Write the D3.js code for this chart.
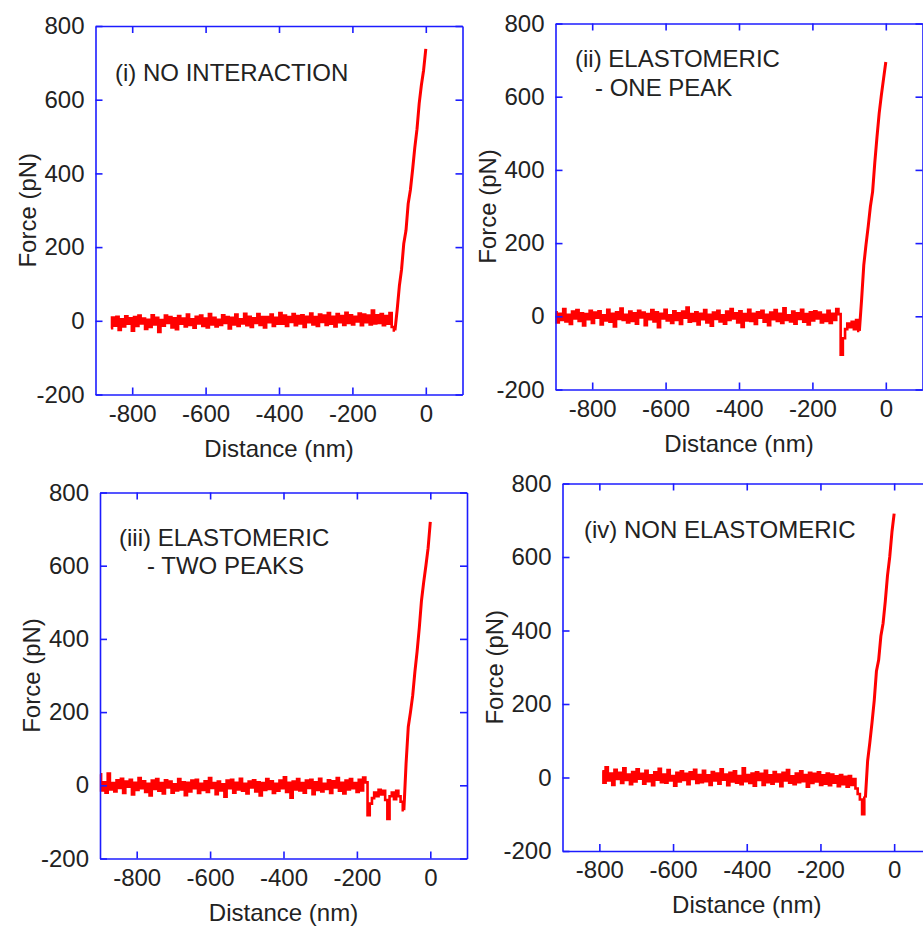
<!DOCTYPE html>
<html>
<head>
<meta charset="utf-8">
<script src="https://cdn.jsdelivr.net/npm/d3@7"></script>
<style>
  html, body { margin: 0; padding: 0; background: #fff; }
  svg { display: block; }
  text { font-family: "Liberation Sans", Arial, sans-serif; fill: #222; }
</style>
</head>
<body>
<svg id="chart" width="923" height="927"></svg>
<script>
// ---------- DATA ----------
const xTicks = [-800, -600, -400, -200, 0];
const yTicks = [-200, 0, 200, 400, 600, 800];
const xTitle = "Distance (nm)";
const yTitle = "Force (pN)";

// shared distance grid (nm), sampling every 6 nm
const distance = [-900,-894,-888,-882,-876,-870,-864,-858,-852,-846,-840,-834,-828,-822,-816,-810,-804,-798,-792,-786,-780,-774,-768,-762,-756,-750,-744,-738,-732,-726,-720,-714,-708,-702,-696,-690,-684,-678,-672,-666,-660,-654,-648,-642,-636,-630,-624,-618,-612,-606,-600,-594,-588,-582,-576,-570,-564,-558,-552,-546,-540,-534,-528,-522,-516,-510,-504,-498,-492,-486,-480,-474,-468,-462,-456,-450,-444,-438,-432,-426,-420,-414,-408,-402,-396,-390,-384,-378,-372,-366,-360,-354,-348,-342,-336,-330,-324,-318,-312,-306,-300,-294,-288,-282,-276,-270,-264,-258,-252,-246,-240,-234,-228,-222,-216,-210,-204,-198,-192,-186,-180,-174,-168,-162,-156,-150,-144,-138,-132,-126,-120,-114,-108,-102,-96,-90,-84,-78,-72,-66,-60,-54,-48,-42,-36,-30,-24,-18,-12,-6,0];

// force (pN) per panel; each series ends at distance 0
const forceNoInteraction = [
  -20,9,-13,11,-25,4,-15,12,-8,7,
  -27,10,-14,14,-7,6,-22,3,-17,15,
  -10,8,-30,2,-13,14,-6,10,-18,7,
  -23,13,-8,6,-15,17,-11,4,-19,11,
  -7,14,-14,6,-18,18,-10,8,-15,3,
  -11,15,-6,10,-21,8,-10,17,-14,4,
  -7,19,-12,11,-17,7,-6,18,-11,10,
  -18,10,-4,17,-14,8,-8,21,-8,14,
  -14,10,-3,18,-12,13,-7,15,-17,11,
  -4,20,-10,10,-14,17,-3,14,-11,21,
  -8,11,-15,18,-4,13,-11,22,-6,15,
  -10,11,-2,20,-12,17,-4,14,-10,28,
  -7,15,-6,18,-12,13,-8,21,-17,
  -26,30,
  95,140,210,245,318,355,410,470,520,590,640,680,738
];
const forceOnePeak = [
  11,-17,7,-10,20,-14,4,-21,13,-6,
  17,-13,8,-25,6,-8,15,-18,10,-4,
  14,-22,3,-11,18,-15,7,-28,11,-7,
  21,-10,4,-17,13,-13,8,-20,15,-3,
  10,-24,6,-8,17,-14,11,-30,7,-6,
  18,-11,3,-18,14,-10,8,-21,13,-4,
  24,-15,6,-13,11,-22,7,-8,17,-17,
  4,-26,10,-7,15,-14,3,-20,13,-10,
  20,-6,8,-17,14,-29,6,-11,18,-13,
  7,-21,11,-4,15,-15,4,-24,10,-8,
  17,-13,7,-18,22,-10,3,-14,13,-20,
  8,-7,18,-15,6,-22,11,-11,14,-6,
  10,-17,4,-13,15,-18,7,-10,20,6,
  -105,-60,-35,-20,-30,-15,-35,-10,-40,
  45,140,195,245,300,340,420,490,555,605,650,695
];
const forceTwoPeaks = [
  30,-14,8,-20,32,-11,6,-17,14,-7,
  18,-21,10,-4,15,-25,7,-13,20,-8,
  11,-18,4,-28,13,-10,17,-15,6,-22,
  14,-6,10,-20,3,-14,17,-11,8,-27,
  7,-17,13,-8,15,-21,4,-13,11,-18,
  20,-7,6,-24,10,-14,3,-31,13,-8,
  15,-20,7,-11,18,-15,4,-22,10,-6,
  14,-17,8,-28,6,-13,17,-10,11,-21,
  4,-15,13,-8,22,-18,7,-34,10,-11,
  17,-14,6,-20,13,-7,15,-24,8,-13,
  18,-17,4,-10,14,-21,11,-6,20,-15,
  7,-22,13,-11,17,-8,6,-18,15,-14,
  21,8,
  -82,-50,-35,-20,-30,-12,-25,-15,-40,-92,-30,-20,-38,-15,-30,-45,-68,
  60,160,200,245,310,365,430,505,555,600,648,720
];
const forceNonElastomeric = [
  17,-14,28,-8,11,-20,21,-4,13,-15,
  25,-7,8,-18,15,-11,22,-3,10,-17,
  18,-10,6,-21,14,-6,24,-13,8,-14,
  20,-8,4,-22,13,-11,17,-7,10,-18,
  14,-4,21,-15,7,-13,18,-10,6,-20,
  15,-8,11,-17,22,-6,8,-21,13,-11,
  17,-14,4,-18,25,-10,7,-15,11,-22,
  14,-7,10,-20,18,-13,6,-17,15,-11,
  8,-24,13,-8,20,-14,3,-18,11,-13,
  17,-10,7,-25,13,-15,10,-11,14,-20,
  6,-17,11,-21,8,-14,3,-24,7,-18,
  2,-25,4,-20,-4,
  -30,-45,-60,-100,-55,
  45,95,150,210,290,320,385,420,480,550,600,668,718
];
// distance (nm) where the contact (steep) region of each curve begins
const contactStart = [-84, -72, -72, -78];

const panelLabels = [
  ["(i) NO INTERACTION"],
  ["(ii) ELASTOMERIC", "- ONE PEAK"],
  ["(iii) ELASTOMERIC", "- TWO PEAKS"],
  ["(iv) NON ELASTOMERIC"]
];
const panelForces = [forceNoInteraction, forceOnePeak, forceTwoPeaks, forceNonElastomeric];

// ---------- LAYOUT (pixel frames of each plot) ----------
const frames = [
  {left: 95.5, right: 462.5, top: 26, bottom: 394.5, label: [{x: 115, y: 81}]},
  {left: 555.5, right: 922.5, top: 23.5, bottom: 389.5, label: [{x: 575, y: 67}, {x: 595, y: 96}]},
  {left: 100, right: 467, top: 492.5, bottom: 858.5, label: [{x: 119, y: 546}, {x: 147, y: 573.5}]},
  {left: 562.5, right: 931, top: 483.5, bottom: 851, label: [{x: 584, y: 537.5}]}
];

const BLUE = "#1c1cff";
const RED = "#ff0000";
const FONT = 24;
const svg = d3.select("#chart");
const fmt = d => String(d);   // plain hyphen-minus, as in the original

frames.forEach((f, k) => {
  const x = d3.scaleLinear().domain([-900, 100]).range([f.left, f.right]);
  const y = d3.scaleLinear().domain([-200, 800]).range([f.bottom, f.top]);
  const g = svg.append("g");

  const forces = panelForces[k];
  const dists = distance.slice(distance.length - forces.length);
  const pts = forces.map((v, i) => [dists[i], v]);
  const noncontact = pts.filter(p => p[0] <= contactStart[k]);
  const contact = pts.filter(p => p[0] >= contactStart[k]);

  // noisy non-contact trace (dense raw samples -> step trace)
  g.append("path")
    .datum(noncontact)
    .attr("fill", "none")
    .attr("stroke", RED)
    .attr("stroke-width", 2.6)
    .attr("d", d3.line().curve(d3.curveStep).x(d => x(d[0])).y(d => y(d[1])));
  // contact (steep) region
  g.append("path")
    .datum(contact)
    .attr("fill", "none")
    .attr("stroke", RED)
    .attr("stroke-width", 3)
    .attr("stroke-linejoin", "round")
    .attr("d", d3.line().x(d => x(d[0])).y(d => y(d[1])));

  const styleAxis = sel => {
    sel.selectAll(".domain").attr("stroke", BLUE).attr("stroke-width", 1.6);
    sel.selectAll(".tick line").attr("stroke", BLUE).attr("stroke-width", 1.6);
    sel.selectAll(".tick text")
      .style("font-family", '"Liberation Sans", Arial, sans-serif')
      .style("font-size", FONT + "px")
      .attr("fill", "#222");
  };

  g.append("g").attr("transform", `translate(0,${f.bottom})`)
    .call(d3.axisBottom(x).tickValues(xTicks).tickSize(-7).tickSizeOuter(0).tickPadding(10).tickFormat(fmt))
    .call(styleAxis);
  g.append("g").attr("transform", `translate(0,${f.top})`)
    .call(d3.axisTop(x).tickValues(xTicks).tickSize(-7).tickSizeOuter(0).tickFormat(""))
    .call(styleAxis);
  g.append("g").attr("transform", `translate(${f.left},0)`)
    .call(d3.axisLeft(y).tickValues(yTicks).tickSize(-7).tickSizeOuter(0).tickPadding(11).tickFormat(fmt))
    .call(styleAxis);
  g.append("g").attr("transform", `translate(${f.right},0)`)
    .call(d3.axisRight(y).tickValues(yTicks).tickSize(-7).tickSizeOuter(0).tickFormat(""))
    .call(styleAxis);

  // axis titles
  g.append("text")
    .attr("x", (f.left + f.right) / 2)
    .attr("y", f.bottom + 62)
    .attr("text-anchor", "middle")
    .style("font-size", FONT + "px")
    .text(xTitle);
  g.append("text")
    .attr("transform", `translate(${f.left - 60},${(f.top + f.bottom) / 2}) rotate(-90)`)
    .attr("text-anchor", "middle")
    .style("font-size", FONT + "px")
    .text(yTitle);

  // panel annotation
  panelLabels[k].forEach((t, j) => {
    g.append("text")
      .attr("x", f.label[j].x)
      .attr("y", f.label[j].y)
      .style("font-size", FONT + "px")
      .text(t);
  });
});
</script>
</body>
</html>
